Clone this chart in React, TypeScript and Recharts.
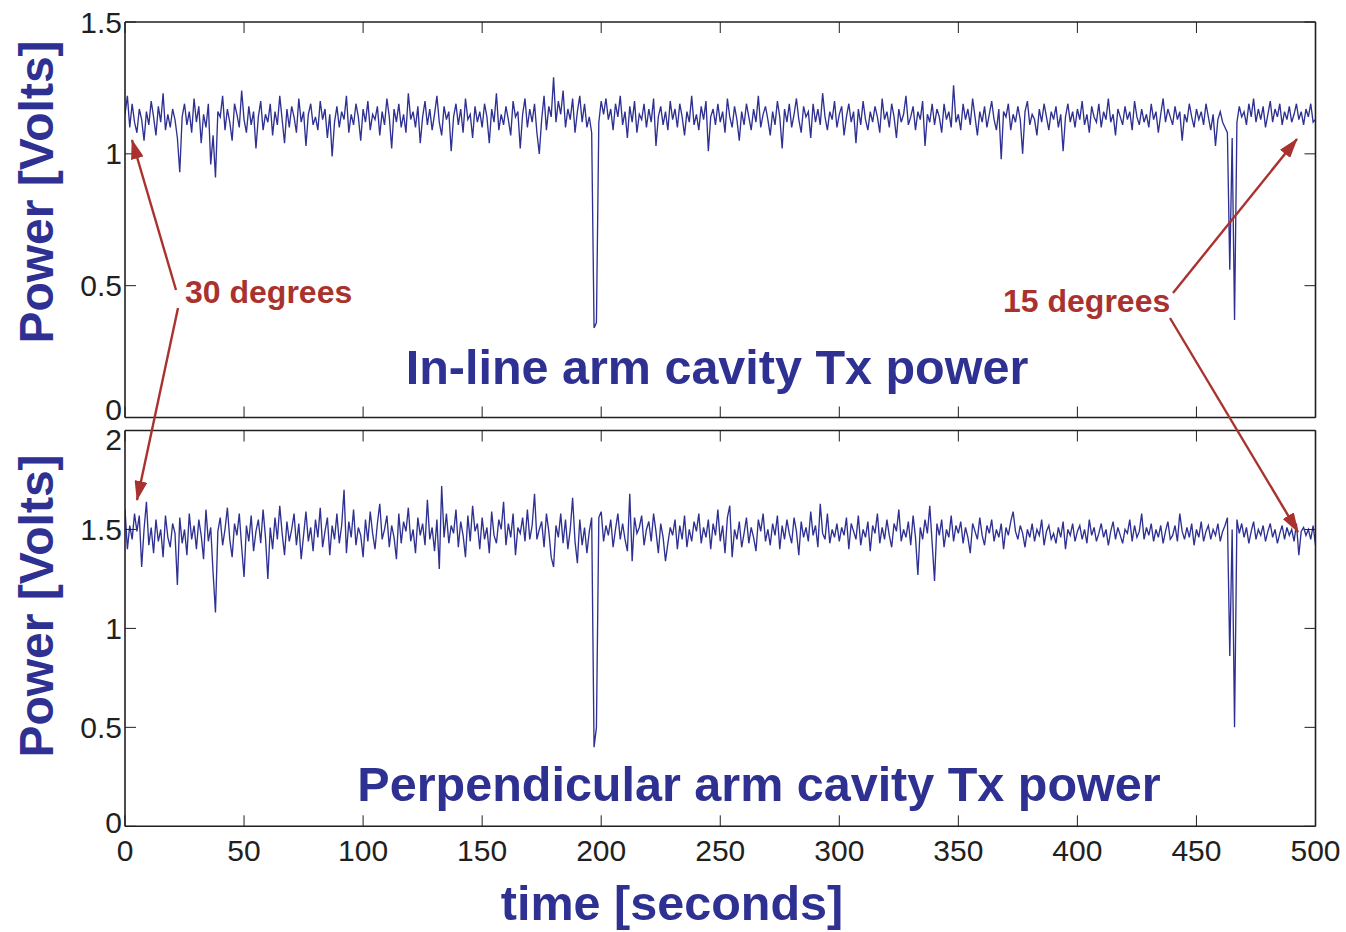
import React from "react";
import { LineChart, Line, XAxis, YAxis } from "recharts";

const W = 1346;
const H = 932;
const PLOT_LEFT = 125;
const PLOT_RIGHT = 1315.5;
const BLUE = "#2E3192";
const RED = "#A9322E";
const INK = "#231F20";
const FONT = "'Liberation Sans', Arial, Helvetica, sans-serif";
const TICK_LEN = 11;

const timeTicks = [0, 50, 100, 150, 200, 250, 300, 350, 400, 450, 500];
const inlineTicks = [0, 0.5, 1, 1.5];
const perpTicks = [0, 0.5, 1, 1.5, 2];

// in-line arm cavity transmitted power, one reading per second (Volts)
const inlinePower = [
  1.15, 1.22, 1.10, 1.19, 1.12, 1.08, 1.17, 1.13, 1.05, 1.16,
  1.11, 1.20, 1.14, 1.07, 1.18, 1.12, 1.23, 1.09, 1.15, 1.10,
  1.17, 1.13, 1.06, 0.93, 1.14, 1.19, 1.11, 1.16, 1.08, 1.21,
  1.12, 1.18, 1.04, 1.15, 1.10, 1.19, 0.96, 1.07, 0.91, 1.16,
  1.14, 1.22, 1.09, 1.17, 1.12, 1.05, 1.19, 1.15, 1.10, 1.24,
  1.13, 1.08, 1.18, 1.11, 1.16, 1.02, 1.14, 1.20, 1.09, 1.15,
  1.12, 1.19, 1.07, 1.16, 1.11, 1.22, 1.13, 1.04, 1.17, 1.10,
  1.18, 1.14, 1.08, 1.21, 1.12, 1.16, 1.03, 1.15, 1.19, 1.11,
  1.14, 1.09, 1.20, 1.13, 1.17, 1.06, 1.15, 0.99, 1.12, 1.18,
  1.10, 1.16, 1.13, 1.22, 1.08, 1.15, 1.11, 1.19, 1.14, 1.05,
  1.17, 1.12, 1.20, 1.09, 1.15, 1.13, 1.18, 1.07, 1.16, 1.11,
  1.21, 1.14, 1.02, 1.17, 1.12, 1.19, 1.10, 1.15, 1.08, 1.23,
  1.13, 1.16, 1.10, 1.18, 1.04, 1.14, 1.20, 1.11, 1.17, 1.09,
  1.15, 1.22, 1.12, 1.07, 1.18, 1.13, 1.16, 1.01, 1.14, 1.19,
  1.11, 1.17, 1.08, 1.21, 1.13, 1.15, 1.06, 1.18, 1.12, 1.16,
  1.10, 1.19, 1.14, 1.04, 1.17, 1.12, 1.23, 1.09, 1.15, 1.11,
  1.18, 1.13, 1.07, 1.20, 1.14, 1.16, 1.02, 1.15, 1.21, 1.10,
  1.17, 1.12, 1.19, 1.08, 1.00, 1.13, 1.22, 1.09, 1.18, 1.14,
  1.29, 1.12, 1.20, 1.15, 1.24, 1.10, 1.17, 1.13, 1.21, 1.08,
  1.16, 1.22, 1.12, 1.19, 1.10, 1.14, 1.08, 0.34, 0.36, 1.12,
  1.20, 1.15, 1.21, 1.13, 1.17, 1.09, 1.19, 1.14, 1.22, 1.11,
  1.16, 1.06, 1.18, 1.12, 1.20, 1.08, 1.15, 1.13, 1.19, 1.10,
  1.17, 1.12, 1.21, 1.03, 1.14, 1.18, 1.11, 1.16, 1.09, 1.20,
  1.13, 1.17, 1.10, 1.19, 1.14, 1.07, 1.16, 1.12, 1.22, 1.11,
  1.15, 1.09, 1.18, 1.13, 1.20, 1.01, 1.14, 1.17, 1.11, 1.19,
  1.12, 1.16, 1.08, 1.21, 1.14, 1.10, 1.18, 1.13, 1.05, 1.16,
  1.11, 1.19, 1.14, 1.09, 1.17, 1.12, 1.22, 1.10, 1.15, 1.18,
  1.13, 1.07, 1.16, 1.11, 1.20, 1.14, 1.02, 1.17, 1.12, 1.19,
  1.10, 1.15, 1.21, 1.13, 1.08, 1.18, 1.14, 1.16, 1.06, 1.19,
  1.12, 1.17, 1.11, 1.23, 1.14, 1.09, 1.16, 1.13, 1.20, 1.10,
  1.15, 1.18, 1.07, 1.14, 1.19, 1.12, 1.16, 1.04, 1.17, 1.11,
  1.20, 1.13, 1.09, 1.16, 1.12, 1.18, 1.14, 1.08, 1.21, 1.13,
  1.16, 1.10, 1.19, 1.14, 1.06, 1.17, 1.12, 1.15, 1.22, 1.11,
  1.14, 1.18, 1.09, 1.16, 1.13, 1.20, 1.03, 1.15, 1.12, 1.19,
  1.11, 1.17, 1.14, 1.08, 1.19, 1.13, 1.16, 1.10, 1.26, 1.12,
  1.15, 1.09, 1.19, 1.13, 1.17, 1.11, 1.21, 1.14, 1.07, 1.16,
  1.12, 1.18, 1.10, 1.15, 1.20, 1.13, 1.09, 1.17, 0.98, 1.16,
  1.14, 1.19, 1.09, 1.15, 1.12, 1.18, 1.13, 1.00, 1.16, 1.20,
  1.11, 1.15, 1.13, 1.07, 1.17, 1.12, 1.19, 1.14, 1.09, 1.16,
  1.13, 1.18, 1.10, 1.15, 1.01, 1.14, 1.19, 1.12, 1.16, 1.10,
  1.17, 1.13, 1.20, 1.11, 1.15, 1.08, 1.18, 1.14, 1.12, 1.19,
  1.10, 1.16, 1.13, 1.21, 1.12, 1.15, 1.07, 1.17, 1.14, 1.11,
  1.18, 1.13, 1.16, 1.09, 1.20, 1.14, 1.11, 1.17, 1.12, 1.15,
  1.10, 1.19, 1.13, 1.16, 1.08, 1.15, 1.21, 1.12, 1.17, 1.14,
  1.11, 1.18, 1.13, 1.16, 1.05, 1.15, 1.12, 1.19, 1.14, 1.10,
  1.17, 1.13, 1.16, 1.11, 1.19, 1.14, 1.09, 1.15, 1.03, 1.13,
  1.16, 1.12, 1.10, 1.08, 0.56, 1.06, 0.37, 1.12, 1.18, 1.14,
  1.16, 1.11, 1.19, 1.14, 1.21, 1.12, 1.17, 1.13, 1.18, 1.10,
  1.15, 1.20, 1.12, 1.17, 1.14, 1.19, 1.11, 1.16, 1.13, 1.18,
  1.12, 1.15, 1.19, 1.13, 1.16, 1.11, 1.17, 1.14, 1.19, 1.12,
  1.13,
];

// perpendicular arm cavity transmitted power, one reading per second (Volts)
const perpPower = [
  1.60, 1.40, 1.52, 1.45, 1.58, 1.49, 1.57, 1.31, 1.50, 1.64,
  1.42, 1.51, 1.38, 1.55, 1.44, 1.50, 1.36, 1.57, 1.46, 1.41,
  1.53, 1.48, 1.22, 1.56, 1.43, 1.50, 1.37, 1.58, 1.45, 1.52,
  1.40, 1.55, 1.47, 1.35, 1.60, 1.44, 1.51, 1.28, 1.08, 1.49,
  1.56, 1.42, 1.50, 1.61, 1.45, 1.36, 1.53, 1.47, 1.58, 1.41,
  1.26, 1.52, 1.44, 1.57, 1.39, 1.49, 1.55, 1.43, 1.60, 1.46,
  1.25, 1.51, 1.40, 1.56, 1.45, 1.62, 1.48, 1.37, 1.54, 1.44,
  1.50, 1.58, 1.42, 1.53, 1.35, 1.47, 1.59, 1.44, 1.51, 1.39,
  1.55, 1.46, 1.61, 1.41, 1.49, 1.56, 1.37, 1.52, 1.45, 1.58,
  1.43, 1.52, 1.70, 1.38, 1.54, 1.46, 1.60, 1.42, 1.51, 1.47,
  1.36, 1.55, 1.44, 1.59, 1.48, 1.40, 1.53, 1.63, 1.45, 1.50,
  1.57, 1.41, 1.52, 1.46, 1.35, 1.58, 1.43, 1.54, 1.49, 1.61,
  1.44, 1.50, 1.38, 1.56, 1.47, 1.53, 1.42, 1.65, 1.45, 1.51,
  1.39, 1.55, 1.30, 1.72, 1.46, 1.58, 1.43, 1.52, 1.48, 1.60,
  1.41, 1.54, 1.47, 1.36, 1.57, 1.44, 1.62, 1.49, 1.53, 1.40,
  1.56, 1.45, 1.51, 1.38, 1.59, 1.47, 1.43, 1.55, 1.50, 1.64,
  1.42, 1.53, 1.46, 1.58, 1.37, 1.51, 1.48, 1.56, 1.44, 1.60,
  1.45, 1.52, 1.68, 1.45, 1.50, 1.54, 1.41, 1.58, 1.49, 1.36,
  1.31, 1.52, 1.46, 1.58, 1.43, 1.55, 1.40, 1.50, 1.66, 1.44,
  1.33, 1.55, 1.42, 1.51, 1.38, 1.49, 1.56, 0.40, 0.50, 1.56,
  1.59, 1.44, 1.52, 1.47, 1.55, 1.41, 1.50, 1.58, 1.45, 1.53,
  1.45, 1.39, 1.68, 1.34, 1.56, 1.48, 1.51, 1.57, 1.42, 1.50,
  1.54, 1.44, 1.58, 1.49, 1.38, 1.53, 1.46, 1.34, 1.43, 1.51,
  1.47, 1.55, 1.40, 1.52, 1.45, 1.57, 1.41, 1.50, 1.44, 1.54,
  1.49, 1.58, 1.43, 1.51, 1.46, 1.55, 1.40, 1.53, 1.47, 1.60,
  1.44, 1.52, 1.38, 1.56, 1.62, 1.36, 1.50, 1.45, 1.54, 1.41,
  1.48, 1.56, 1.43, 1.51, 1.46, 1.39, 1.55, 1.49, 1.58, 1.44,
  1.50, 1.42, 1.53, 1.47, 1.57, 1.40, 1.52, 1.45, 1.55, 1.48,
  1.43, 1.56, 1.49, 1.37, 1.54, 1.46, 1.51, 1.44, 1.59, 1.47,
  1.52, 1.41, 1.63, 1.48, 1.45, 1.58, 1.43, 1.50, 1.46, 1.53,
  1.44, 1.51, 1.47, 1.56, 1.40, 1.53, 1.49, 1.45, 1.57, 1.42,
  1.50, 1.46, 1.54, 1.39, 1.52, 1.48, 1.58, 1.43, 1.51, 1.45,
  1.55, 1.47, 1.41, 1.53, 1.49, 1.60, 1.44, 1.50, 1.46, 1.54,
  1.42, 1.57, 1.46, 1.27, 1.51, 1.45, 1.55, 1.48, 1.62, 1.43,
  1.24, 1.53, 1.47, 1.55, 1.41, 1.50, 1.46, 1.57, 1.44, 1.52,
  1.48, 1.54, 1.43, 1.51, 1.46, 1.38, 1.53, 1.49, 1.45, 1.56,
  1.47, 1.42, 1.52, 1.48, 1.55, 1.44, 1.50, 1.46, 1.53, 1.40,
  1.51, 1.47, 1.54, 1.59, 1.49, 1.45, 1.52, 1.48, 1.41, 1.50,
  1.46, 1.53, 1.44, 1.50, 1.47, 1.55, 1.42, 1.49, 1.52, 1.45,
  1.48, 1.43, 1.51, 1.46, 1.54, 1.40, 1.50, 1.47, 1.53, 1.44,
  1.49, 1.52, 1.45, 1.50, 1.43, 1.55, 1.47, 1.51, 1.44, 1.48,
  1.53, 1.46, 1.50, 1.42, 1.49, 1.54, 1.45, 1.51, 1.47, 1.43,
  1.50, 1.48, 1.55, 1.44, 1.52, 1.46, 1.49, 1.58, 1.45, 1.51,
  1.47, 1.53, 1.44, 1.50, 1.46, 1.52, 1.43, 1.49, 1.54, 1.45,
  1.47, 1.52, 1.44, 1.58, 1.49, 1.45, 1.51, 1.46, 1.53, 1.42,
  1.50, 1.46, 1.54, 1.44, 1.49, 1.52, 1.45, 1.50, 1.47, 1.53,
  1.44, 1.49, 1.52, 1.56, 0.86, 1.50, 0.50, 1.55, 1.48, 1.53,
  1.46, 1.51, 1.43, 1.49, 1.54, 1.45, 1.50, 1.47, 1.52, 1.44,
  1.49, 1.53, 1.46, 1.50, 1.43, 1.48, 1.52, 1.45, 1.51, 1.47,
  1.50, 1.44, 1.53, 1.37, 1.49, 1.51, 1.47, 1.50, 1.45, 1.52,
  1.42,
];

// sample times in seconds
const time = inlinePower.map((_, i) => i);

const tickText = { fontFamily: FONT, fontSize: 30, fill: INK };
const axisLine = { stroke: INK, strokeWidth: 1.6 };

type PanelProps = {
  values: number[];
  yMax: number;
  yTicks: number[];
  top: number;
  bottom: number;
  showTimeLabels: boolean;
  nudge: Record<number, number>; // shift of end labels where the panels meet
};

// axes get a 1px band (recharts skips axes of zero size), margins take it back
function Panel({ values, yMax, yTicks, top, bottom, showTimeLabels, nudge }: PanelProps) {
  const data = values.map((v, i) => ({ t: time[i], v }));
  return (
    <div style={{ position: "absolute", left: 0, top: 0 }}>
      <LineChart
        width={W}
        height={H}
        data={data}
        margin={{ top: top - 1, right: W - PLOT_RIGHT - 1, bottom: H - bottom - 1, left: PLOT_LEFT - 1 }}
      >
        <XAxis
          xAxisId="b"
          dataKey="t"
          type="number"
          domain={[0, 500]}
          ticks={timeTicks}
          interval={0}
          allowDataOverflow
          height={1}
          tickSize={0}
          tickMargin={13}
          tickLine={false}
          axisLine={axisLine}
          tick={(p: any) => (
            <g>
              <line x1={p.x} x2={p.x} y1={p.y - 13} y2={p.y - 13 - TICK_LEN} stroke={INK} strokeWidth={1} />
              {showTimeLabels && (
                <text x={p.x} y={p.y} dy="0.71em" textAnchor="middle" {...tickText}>
                  {p.payload.value}
                </text>
              )}
            </g>
          )}
        />
        <XAxis
          xAxisId="t"
          orientation="top"
          dataKey="t"
          type="number"
          domain={[0, 500]}
          ticks={timeTicks}
          interval={0}
          allowDataOverflow
          height={1}
          tickSize={0}
          tickMargin={0}
          tickLine={false}
          axisLine={axisLine}
          tick={(p: any) => (
            <line x1={p.x} x2={p.x} y1={p.y} y2={p.y + TICK_LEN} stroke={INK} strokeWidth={1} />
          )}
        />
        <YAxis
          yAxisId="l"
          type="number"
          domain={[0, yMax]}
          ticks={yTicks}
          interval={0}
          allowDataOverflow
          width={1}
          tickSize={0}
          tickMargin={3}
          tickLine={false}
          axisLine={axisLine}
          tick={(p: any) => (
            <g>
              <line x1={p.x + 3} x2={p.x + 3 + TICK_LEN} y1={p.y} y2={p.y} stroke={INK} strokeWidth={1} />
              <text
                x={p.x}
                y={p.y + (nudge[p.payload.value] || 0)}
                dy="0.355em"
                textAnchor="end"
                {...tickText}
              >
                {p.payload.value}
              </text>
            </g>
          )}
        />
        <YAxis
          yAxisId="r"
          orientation="right"
          type="number"
          domain={[0, yMax]}
          ticks={yTicks}
          interval={0}
          allowDataOverflow
          width={1}
          tickSize={0}
          tickMargin={0}
          tickLine={false}
          axisLine={axisLine}
          tick={(p: any) => (
            <line x1={p.x - TICK_LEN} x2={p.x} y1={p.y} y2={p.y} stroke={INK} strokeWidth={1} />
          )}
        />
        <Line
          xAxisId="b"
          yAxisId="l"
          type="linear"
          dataKey="v"
          stroke={BLUE}
          strokeWidth={1.35}
          dot={false}
          activeDot={false}
          isAnimationActive={false}
        />
      </LineChart>
    </div>
  );
}

// annotation arrows: [fromX, fromY, tipX, tipY]
const arrows = [
  [176, 290, 132, 140],
  [178, 308, 137, 500],
  [1173, 293, 1297, 139],
  [1170, 318, 1298, 532],
];

function Overlay() {
  const bold = { fontFamily: FONT, fontWeight: 700 };
  return (
    <svg
      width={W}
      height={H}
      style={{ position: "absolute", left: 0, top: 0, pointerEvents: "none" }}
    >
      <defs>
        <marker
          id="head"
          markerUnits="userSpaceOnUse"
          markerWidth={20}
          markerHeight={13}
          refX={19}
          refY={6.5}
          orient="auto"
        >
          <path d="M0,0 L20,6.5 L0,13 z" fill={RED} />
        </marker>
      </defs>
      <text transform="translate(53,192) rotate(-90)" textAnchor="middle" fontSize={48} fill={BLUE} {...bold}>
        Power [Volts]
      </text>
      <text transform="translate(53,606) rotate(-90)" textAnchor="middle" fontSize={48} fill={BLUE} {...bold}>
        Power [Volts]
      </text>
      <text x={717} y={384} textAnchor="middle" fontSize={48.5} fill={BLUE} {...bold}>
        In-line arm cavity Tx power
      </text>
      <text x={759} y={801} textAnchor="middle" fontSize={48.5} fill={BLUE} {...bold}>
        Perpendicular arm cavity Tx power
      </text>
      <text x={672} y={920} textAnchor="middle" fontSize={48.5} fill={BLUE} {...bold}>
        time [seconds]
      </text>
      <text x={185} y={303} fontSize={32} fill={RED} {...bold}>
        30 degrees
      </text>
      <text x={1003} y={312} fontSize={32} fill={RED} {...bold}>
        15 degrees
      </text>
      {arrows.map(([x1, y1, x2, y2], i) => (
        <line key={i} x1={x1} y1={y1} x2={x2} y2={y2} stroke={RED} strokeWidth={2.4} markerEnd="url(#head)" />
      ))}
    </svg>
  );
}

export default function App() {
  return (
    <div style={{ position: "absolute", left: 0, top: 0, width: W, height: H, background: "#fff" }}>
      <Panel
        values={inlinePower}
        yMax={1.5}
        yTicks={inlineTicks}
        top={22}
        bottom={417.5}
        showTimeLabels={false}
        nudge={{ 0: -8 }}
      />
      <Panel
        values={perpPower}
        yMax={2}
        yTicks={perpTicks}
        top={430.5}
        bottom={826.3}
        showTimeLabels={true}
        nudge={{ 0: -4, 2: 9 }}
      />
      <Overlay />
    </div>
  );
}
